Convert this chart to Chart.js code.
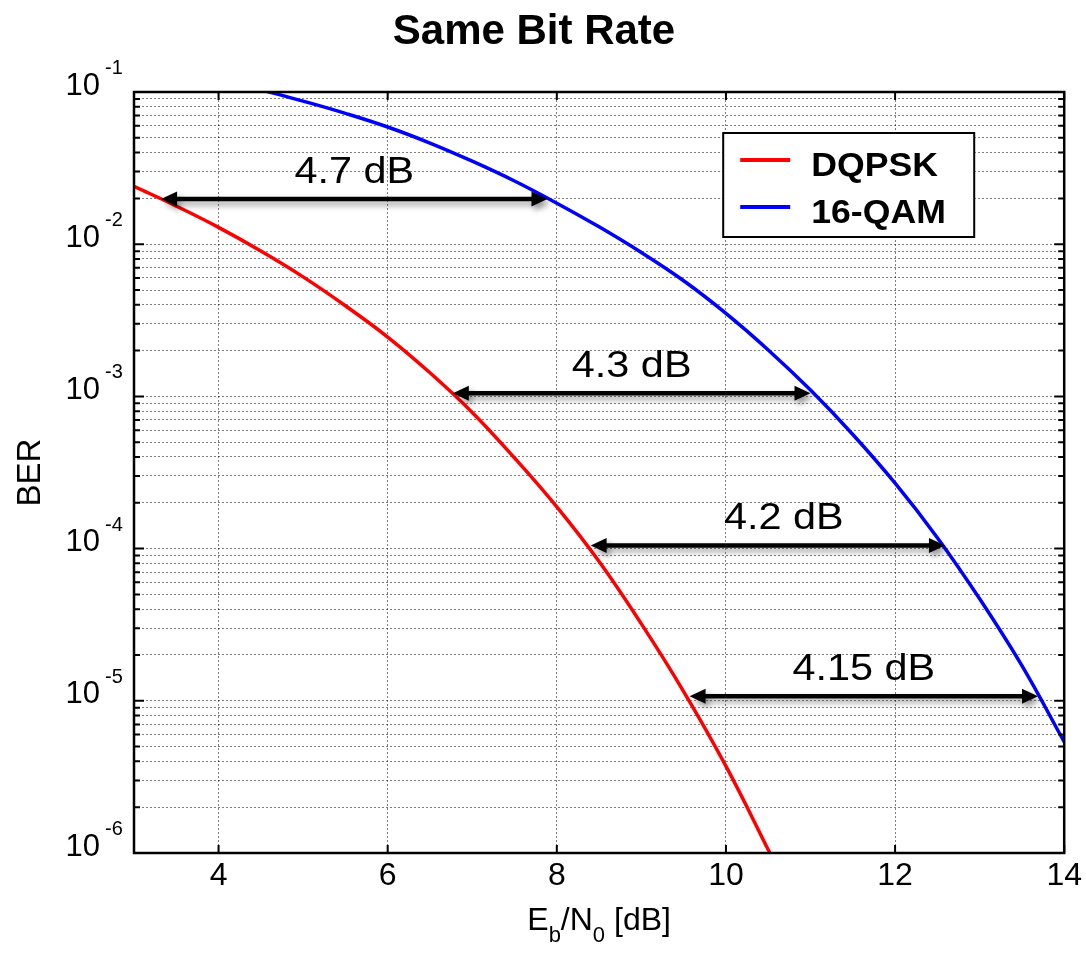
<!DOCTYPE html>
<html>
<head>
<meta charset="utf-8">
<script src="https://cdn.jsdelivr.net/npm/chart.js@4.4.1/dist/chart.umd.min.js"></script>
<style>
  html, body { margin: 0; padding: 0; background: #fff; }
  #wrap { width: 1086px; height: 954px; }
</style>
</head>
<body>
<div id="wrap"><canvas id="chart" width="1086" height="954"></canvas></div>
<script>
// Eb/N0 [dB] and BER values
const ebn0Dqpsk = [3, 3.5, 4, 4.5, 5, 5.5, 6, 6.5, 7, 7.5, 8, 8.5, 9, 9.5, 10, 10.5, 10.55];
const berDqpsk = [2.40e-2, 1.78e-2, 1.29e-2, 9.02e-3, 6.10e-3, 3.94e-3, 2.455e-3, 1.43e-3,
                  7.85e-4, 3.94e-4, 1.88e-4, 8.22e-5, 3.20e-5, 1.15e-5, 3.72e-6, 1.05e-6, 9.1e-7];

const ebn0Qam = [4.5, 5, 5.5, 6, 6.5, 7, 7.5, 8, 8.5, 9, 9.5, 10, 10.5, 11, 11.5, 12, 12.5, 13, 13.5, 14];
const berQam = [1.035e-1, 8.71e-2, 7.24e-2, 5.89e-2, 4.62e-2, 3.51e-2, 2.60e-2, 1.86e-2, 1.30e-2,
                8.81e-3, 5.75e-3, 3.51e-3, 2.02e-3, 1.10e-3, 5.62e-4, 2.69e-4, 1.18e-4, 4.68e-5,
                1.70e-5, 5.37e-6];

const seriesNames = ['DQPSK', '16-QAM'];
const seriesColors = ['#ff0000', '#0000ff'];

// SNR gap arrows between the two curves
const gapLabels = ['4.7 dB', '4.3 dB', '4.2 dB', '4.15 dB'];
const gapBer = [1.98e-2, 1.05e-3, 1.05e-4, 1.07e-5];
const gapFrom = [3.32, 6.77, 8.40, 9.57];
const gapTo = [7.89, 11.0, 12.59, 13.69];

const xTicks = [4, 6, 8, 10, 12, 14];
const yDecades = [-6, -5, -4, -3, -2, -1];
const yMinorSteps = [1, 2, 3, 4, 5, 6, 7, 8, 9];

const FONT = '"Liberation Sans", Arial, Helvetica, sans-serif';

let yTicks = [];
for (let k of yDecades.slice(0, -1)) {
    for (let m of yMinorSteps) yTicks.push(m * Math.pow(10, k));
}
yTicks.push(Math.pow(10, yDecades[yDecades.length - 1]));

function isDecade(v) {
    let l = Math.log10(v);
    return Math.abs(l - Math.round(l)) < 1e-9;
}

function arrowHead(ctx, tipX, y, dir) {
    ctx.beginPath();
    ctx.moveTo(tipX, y);
    ctx.lineTo(tipX + dir * 16, y - 7.5);
    ctx.lineTo(tipX + dir * 16, y + 7.5);
    ctx.closePath();
    ctx.fill();
}

const decorations = {
    id: 'decorations',
    afterDatasetsDraw(chart) {
        const ctx = chart.ctx, a = chart.chartArea, xs = chart.scales.x, ys = chart.scales.y;

        // arrows + gap labels
        for (let i = 0; i < gapLabels.length; ++i) {
            let py = ys.getPixelForValue(gapBer[i]);
            let x0 = xs.getPixelForValue(gapFrom[i]);
            let x1 = xs.getPixelForValue(gapTo[i]);
            ctx.save();
            ctx.shadowColor = 'rgba(0,0,0,0.4)';
            ctx.shadowBlur = 6;
            ctx.shadowOffsetX = 3;
            ctx.shadowOffsetY = 4;
            ctx.strokeStyle = '#000';
            ctx.fillStyle = '#000';
            ctx.lineWidth = 4.5;
            ctx.beginPath();
            ctx.moveTo(x0 + 12, py);
            ctx.lineTo(x1 - 12, py);
            ctx.stroke();
            arrowHead(ctx, x0, py, 1);
            arrowHead(ctx, x1, py, -1);
            ctx.restore();

            ctx.save();
            ctx.fillStyle = '#000';
            ctx.font = '36px ' + FONT;
            ctx.textAlign = 'center';
            ctx.textBaseline = 'alphabetic';
            ctx.translate((x0 + x1) / 2 + (i === 2 ? 16 : 0), py - 16);
            ctx.scale(1.15, 1);
            ctx.fillText(gapLabels[i], 0, 0);
            ctx.restore();
        }

        // legend box
        let bx = a.right - 341, by = a.top + 41;
        ctx.save();
        ctx.fillStyle = '#fff';
        ctx.fillRect(bx, by, 251, 104);
        ctx.strokeStyle = '#000';
        ctx.lineWidth = 2;
        ctx.strokeRect(bx, by, 251, 104);
        chart.data.datasets.forEach((ds, i) => {
            let ly = by + 27 + i * 47;
            ctx.strokeStyle = ds.borderColor;
            ctx.lineWidth = 4;
            ctx.beginPath();
            ctx.moveTo(bx + 17, ly);
            ctx.lineTo(bx + 67, ly);
            ctx.stroke();
            ctx.save();
            ctx.fillStyle = '#000';
            ctx.font = 'bold 33px ' + FONT;
            ctx.textBaseline = 'alphabetic';
            ctx.translate(bx + 88, ly + 16);
            ctx.scale(1.08, 1);
            ctx.fillText(ds.label, 0, 0);
            ctx.restore();
        });
        ctx.restore();
    },
    afterDraw(chart) {
        const ctx = chart.ctx, a = chart.chartArea, xs = chart.scales.x, ys = chart.scales.y;
        ctx.save();
        ctx.strokeStyle = '#000';

        // inner tick marks
        ctx.lineWidth = 2;
        ctx.beginPath();
        for (let v of yTicks) {
            let py = ys.getPixelForValue(v);
            let len = isDecade(v) ? 10 : 6;
            ctx.moveTo(a.left, py); ctx.lineTo(a.left + len, py);
            ctx.moveTo(a.right, py); ctx.lineTo(a.right - len, py);
        }
        for (let v of xTicks) {
            let px = xs.getPixelForValue(v);
            ctx.moveTo(px, a.bottom); ctx.lineTo(px, a.bottom - 8);
            ctx.moveTo(px, a.top); ctx.lineTo(px, a.top + 8);
        }
        ctx.stroke();

        // frame
        ctx.lineWidth = 2.5;
        ctx.strokeRect(a.left, a.top, a.right - a.left, a.bottom - a.top);

        // exponents of the 10^k labels
        ctx.fillStyle = '#000';
        ctx.font = '20px ' + FONT;
        ctx.textAlign = 'left';
        ctx.textBaseline = 'alphabetic';
        for (let k of yDecades) {
            let py = ys.getPixelForValue(Math.pow(10, k));
            ctx.fillText(String(k), a.left - 29, py - 18);
        }

        // x axis title with subscripts
        let parts = [['E', 32, 0], ['b', 22, 12], ['/N', 32, 0], ['0', 22, 12], [' [dB]', 32, 0]];
        let total = 0;
        for (let p of parts) { ctx.font = p[1] + 'px ' + FONT; total += ctx.measureText(p[0]).width; }
        let tx = (a.left + a.right) / 2 - total / 2;
        for (let p of parts) {
            ctx.font = p[1] + 'px ' + FONT;
            ctx.fillText(p[0], tx, 930 + p[2]);
            tx += ctx.measureText(p[0]).width;
        }
        ctx.restore();
    }
};

const gridLook = {
    color: 'rgba(0,0,0,0.5)',
    lineWidth: 1,
    drawTicks: false
};

new Chart(document.getElementById('chart'), {
    type: 'line',
    data: {
        datasets: [
            {
                label: seriesNames[0],
                data: ebn0Dqpsk.map((v, i) => ({x: v, y: berDqpsk[i]})),
                borderColor: seriesColors[0],
                borderWidth: 3.5,
                pointRadius: 0,
                tension: 0.4
            },
            {
                label: seriesNames[1],
                data: ebn0Qam.map((v, i) => ({x: v, y: berQam[i]})),
                borderColor: seriesColors[1],
                borderWidth: 3.5,
                pointRadius: 0,
                tension: 0.4
            }
        ]
    },
    options: {
        responsive: false,
        animation: false,
        layout: {padding: {left: 0, right: 18, top: 0, bottom: 0}},
        plugins: {
            legend: {display: false},
            tooltip: {enabled: false},
            title: {
                display: true,
                text: 'Same Bit Rate',
                color: '#000',
                font: {family: FONT, size: 42, weight: 'bold'},
                padding: {top: 7, bottom: 34.6}
            }
        },
        scales: {
            x: {
                type: 'linear',
                min: 3,
                max: 14,
                grid: gridLook,
                border: {display: false, dash: [2, 2]},
                afterBuildTicks: (axis) => { axis.ticks = xTicks.map(v => ({value: v})); },
                afterFit: (axis) => { axis.height = 101; },
                ticks: {
                    color: '#000',
                    font: {family: FONT, size: 32},
                    padding: 4,
                    autoSkip: false,
                    maxRotation: 0
                }
            },
            y: {
                type: 'logarithmic',
                min: 1e-6,
                max: 1e-1,
                grid: gridLook,
                border: {display: false, dash: [2, 2]},
                afterBuildTicks: (axis) => { axis.ticks = yTicks.map(v => ({value: v})); },
                afterFit: (axis) => { axis.width = 134; },
                ticks: {
                    color: '#000',
                    font: {family: FONT, size: 31},
                    padding: 34,
                    labelOffset: -6,
                    autoSkip: false,
                    callback: (v) => isDecade(v) ? '10' : ''
                },
                title: {
                    display: true,
                    text: 'BER',
                    color: '#000',
                    font: {family: FONT, size: 33},
                    padding: {top: 11, bottom: 0}
                }
            }
        }
    },
    plugins: [decorations]
});
</script>
</body>
</html>
